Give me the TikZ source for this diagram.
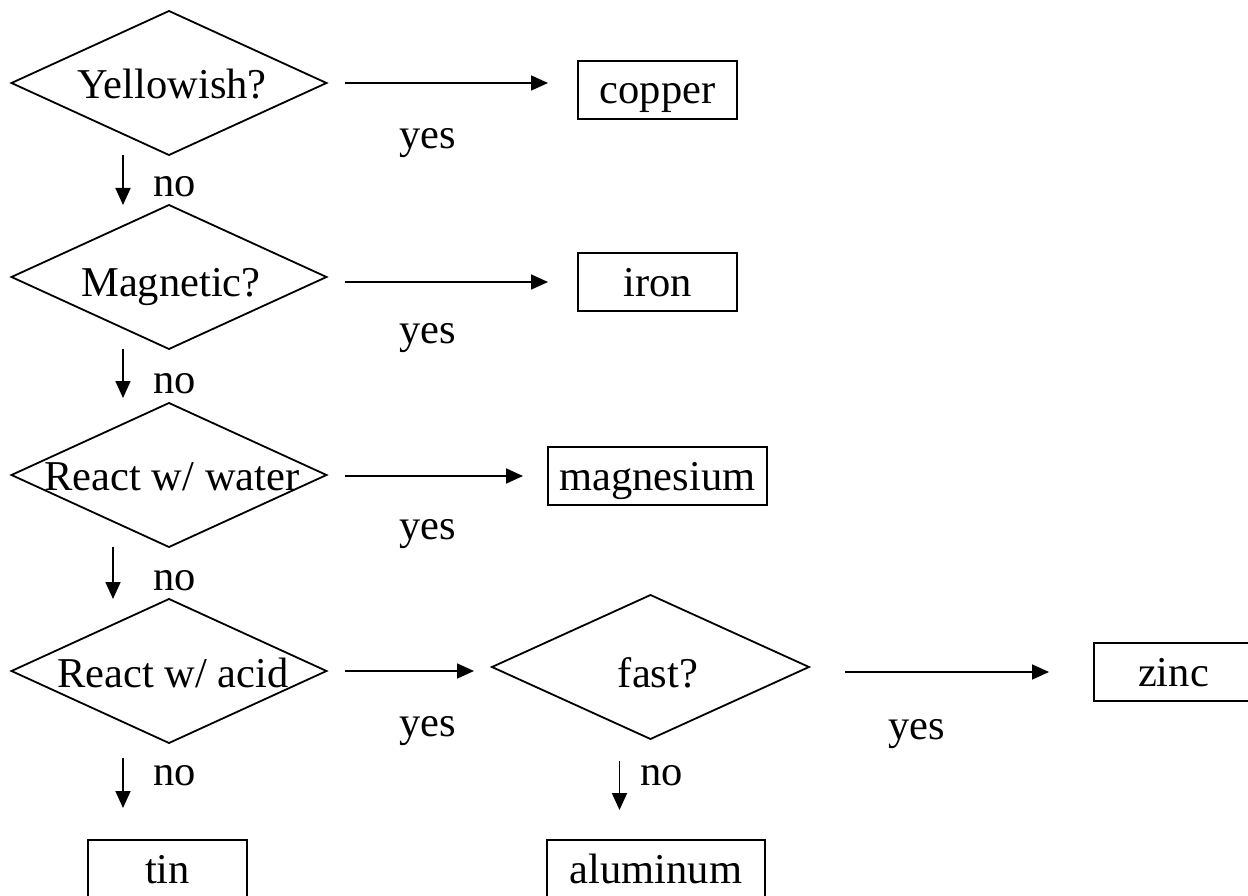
\documentclass[tikz,border=0pt]{standalone}
\usepackage{fontspec}
\setmainfont{Liberation Serif}
\usetikzlibrary{arrows.meta,shapes.geometric}
\begin{document}
\begin{tikzpicture}[x=1pt,y=-1pt,
  every node/.style={font=\fontsize{42.5}{50}\selectfont},
  decision/.style={draw,shape=diamond,minimum width=315pt,minimum height=144pt,inner sep=0pt,outer sep=0pt,line width=1.8pt},
  outcome/.style={draw,rectangle,minimum height=58pt,inner sep=0pt,outer sep=0pt,line width=1.8pt,text height=36pt,text depth=8pt},
  qtext/.style={anchor=base,inner sep=0pt},
  lbl/.style={inner sep=0pt},
  arr/.style={line width=1.8pt,-{Triangle[length=17pt,width=15pt]}}]
\clip (0,0) rectangle (1248,896);
% decisions
\node[decision] (d1) at (169,83) {};
\node[decision] (d2) at (169,277) {};
\node[decision] (d3) at (169,475) {};
\node[decision] (d4) at (169,671) {};
\node[decision,minimum width=317pt] (fast) at (650.5,667) {};
\node[qtext] (t1) at (172,99) {Yellowish?};
\node[qtext] (t2) at (171,296) {Magnetic?};
\node[qtext] (t3) at (172,490) {React w/ water};
\node[qtext] (t4) at (173,687) {React w/ acid};
\node[qtext] (t5) at (658,687) {fast?};
% outcomes
\node[outcome,minimum width=159pt] (copper) at (657.5,90) {copper};
\node[outcome,minimum width=159pt] (iron) at (657.5,282) {iron};
\node[outcome,minimum width=219pt] (mag) at (657.5,476) {magnesium};
\node[outcome,minimum width=159pt] (zinc) at (1173.5,672) {zinc};
\node[outcome,minimum width=159pt] (tin) at (167.5,869) {tin};
\node[outcome,minimum width=218pt] (alu) at (656,869) {aluminum};
% yes arrows
\draw[arr,shorten <=18pt,shorten >=30pt] (d1.east) -- (d1.east -| copper.west);
\draw[arr,shorten <=18pt,shorten >=30pt] (iron.west -| d2.east) -- (iron.west);
\draw[arr,shorten <=18pt,shorten >=25pt] (mag.west -| d3.east) -- (mag.west);
\draw[arr,shorten <=18pt,shorten >=18pt] (d4.east) -- (d4.east -| fast.west);
\draw[arr,shorten <=36pt,shorten >=45pt] (zinc.west -| fast.east) -- (zinc.west);
\node[lbl,anchor=base] (y1) at (428,149) {yes};
\node[lbl,anchor=base] (y2) at (428,343) {yes};
\node[lbl,anchor=base] (y3) at (428,539) {yes};
\node[lbl,anchor=base] (y4) at (428,736) {yes};
\node[lbl,anchor=base] (y5) at (917,739) {yes};
% no arrows
\draw[arr] ([xshift=-46pt]d1.south) -- ([xshift=-46pt]d2.north);
\draw[arr,shorten >=5pt] ([xshift=-46pt]d2.south) -- ([xshift=-46pt]d3.north);
\draw[arr] ([xshift=-56pt]d3.south) -- ([xshift=-56pt]d4.north);
\draw[arr,shorten <=15pt,shorten >=32pt] ([xshift=-46pt]d4.south) -- ([xshift=-46pt]d4.south |- tin.north);
\draw[arr,shorten <=22pt,shorten >=30pt] ([xshift=-31pt]fast.south) -- ([xshift=-31pt]fast.south |- alu.north);
\node[lbl,anchor=base west] (n1) at (153,197) {no};
\node[lbl,anchor=base west] (n2) at (153,393) {no};
\node[lbl,anchor=base west] (n3) at (153,590) {no};
\node[lbl,anchor=base west] (n4) at (153,785) {no};
\node[lbl,anchor=base west] (n5) at (640,785) {no};
\end{tikzpicture}
\end{document}
